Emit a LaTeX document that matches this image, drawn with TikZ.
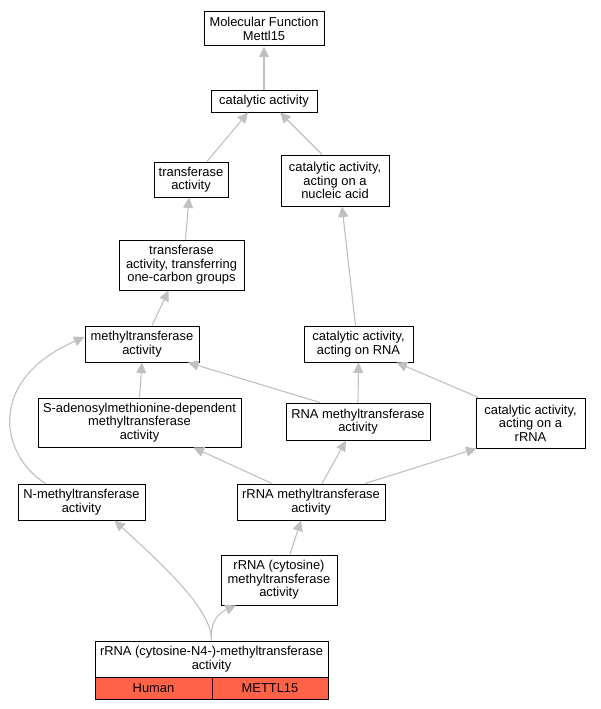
\documentclass[tikz,border=0pt]{standalone}
\usepackage{fontspec}
\setmainfont{Liberation Sans}
\usetikzlibrary{arrows.meta}
\definecolor{edgegray}{RGB}{192,192,192}
\definecolor{tomato}{RGB}{255,99,71}
\tikzset{
  box/.style={draw=black, line width=1pt, fill=white, align=center, inner sep=0pt,
    font=\fontsize{12.9}{13.5}\selectfont},
  cell/.style={box, fill=tomato},
  edge/.style={draw=edgegray, line width=1.1pt, -{Triangle[length=10.5pt,width=10pt]}},
}
\begin{document}
\begin{tikzpicture}[x=1pt,y=-1pt]
\useasboundingbox (0,0) rectangle (600,709);
\node[box, minimum width=120pt, minimum height=34pt] (mf) at (264,29) {Molecular Function\\Mettl15};
\node[box, minimum width=106pt, minimum height=22pt] (cat) at (264,101) {catalytic activity};
\node[box, minimum width=74pt, minimum height=35pt] (trans) at (191,179.5) {transferase\\activity};
\node[box, minimum width=108pt, minimum height=51pt] (nucl) at (335,180.5) {catalytic activity,\\acting on a\\nucleic acid};
\node[box, minimum width=125pt, minimum height=50pt] (one) at (181.5,265) {transferase\\activity, transferring\\one-carbon groups};
\node[box, minimum width=114pt, minimum height=36pt] (meth) at (142,344) {methyltransferase\\activity};
\node[box, minimum width=109pt, minimum height=36pt] (cr) at (358.5,344) {catalytic activity,\\acting on RNA};
\node[box, minimum width=203pt, minimum height=49pt] (sad) at (139.5,422.5) {S-adenosylmethionine-dependent\\methyltransferase\\activity};
\node[box, minimum width=144pt, minimum height=37pt] (rnam) at (358,421.5) {RNA methyltransferase\\activity};
\node[box, minimum width=109pt, minimum height=50pt] (crr) at (530.5,423) {catalytic activity,\\acting on a\\rRNA};
\node[box, minimum width=127pt, minimum height=36pt] (nm) at (81.5,502) {N-methyltransferase\\activity};
\node[box, minimum width=148pt, minimum height=36pt] (rrm) at (311,502) {rRNA methyltransferase\\activity};
\node[box, minimum width=116pt, minimum height=50pt] (rc) at (279,580) {rRNA (cytosine)\\methyltransferase\\activity};
\node[box, minimum width=233pt, minimum height=36pt] (bot) at (211.5,659) {rRNA (cytosine-N4-)-methyltransferase\\activity};
\node[cell, minimum width=117pt, minimum height=22pt] (human) at (153.5,688) {Human};
\node[cell, minimum width=116pt, minimum height=22pt] (mettl) at (270,688) {METTL15};

\draw[edge] (cat.north) -- (mf.south);
\draw[edge] ([xshift=16pt]trans.north) -- ([xshift=-16pt]cat.south);
\draw[edge] ([xshift=-13pt]nucl.north) -- ([xshift=16pt]cat.south);
\draw[edge] ([xshift=4pt]one.north) -- ([xshift=-2pt]trans.south);
\draw[edge] ([xshift=10pt]meth.north) -- ([xshift=-13pt]one.south);
\draw[edge] (sad.north) -- (meth.south);
\draw[edge] ([xshift=-38pt]rnam.north) -- ([xshift=46pt]meth.south);
\draw[edge] (rnam.north) -- (cr.south);
\draw[edge] ([xshift=-3pt]cr.north) -- ([xshift=7pt]nucl.south);
\draw[edge] ([xshift=-52pt]crr.north) -- ([xshift=38pt]cr.south);
\draw[edge] ([xshift=-39pt]rrm.north) -- ([xshift=54pt]sad.south);
\draw[edge] ([xshift=11pt]rrm.north) -- ([xshift=-12pt]rnam.south);
\draw[edge] ([xshift=54pt]rrm.north) -- ([xshift=-54pt]crr.south);
\draw[edge] ([xshift=-36pt]nm.north) .. controls (0,455) and (-14,380) .. ([yshift=7pt]meth.west);
\draw[edge] ([xshift=11pt]rc.north) -- ([xshift=-10pt]rrm.south);
\draw[edge] (bot.north) .. controls (210,625) and (216,614) .. ([xshift=-43pt]rc.south);
\draw[edge] (bot.north) .. controls (212,610) and (165,567) .. ([xshift=33pt]nm.south);
\end{tikzpicture}
\end{document}
